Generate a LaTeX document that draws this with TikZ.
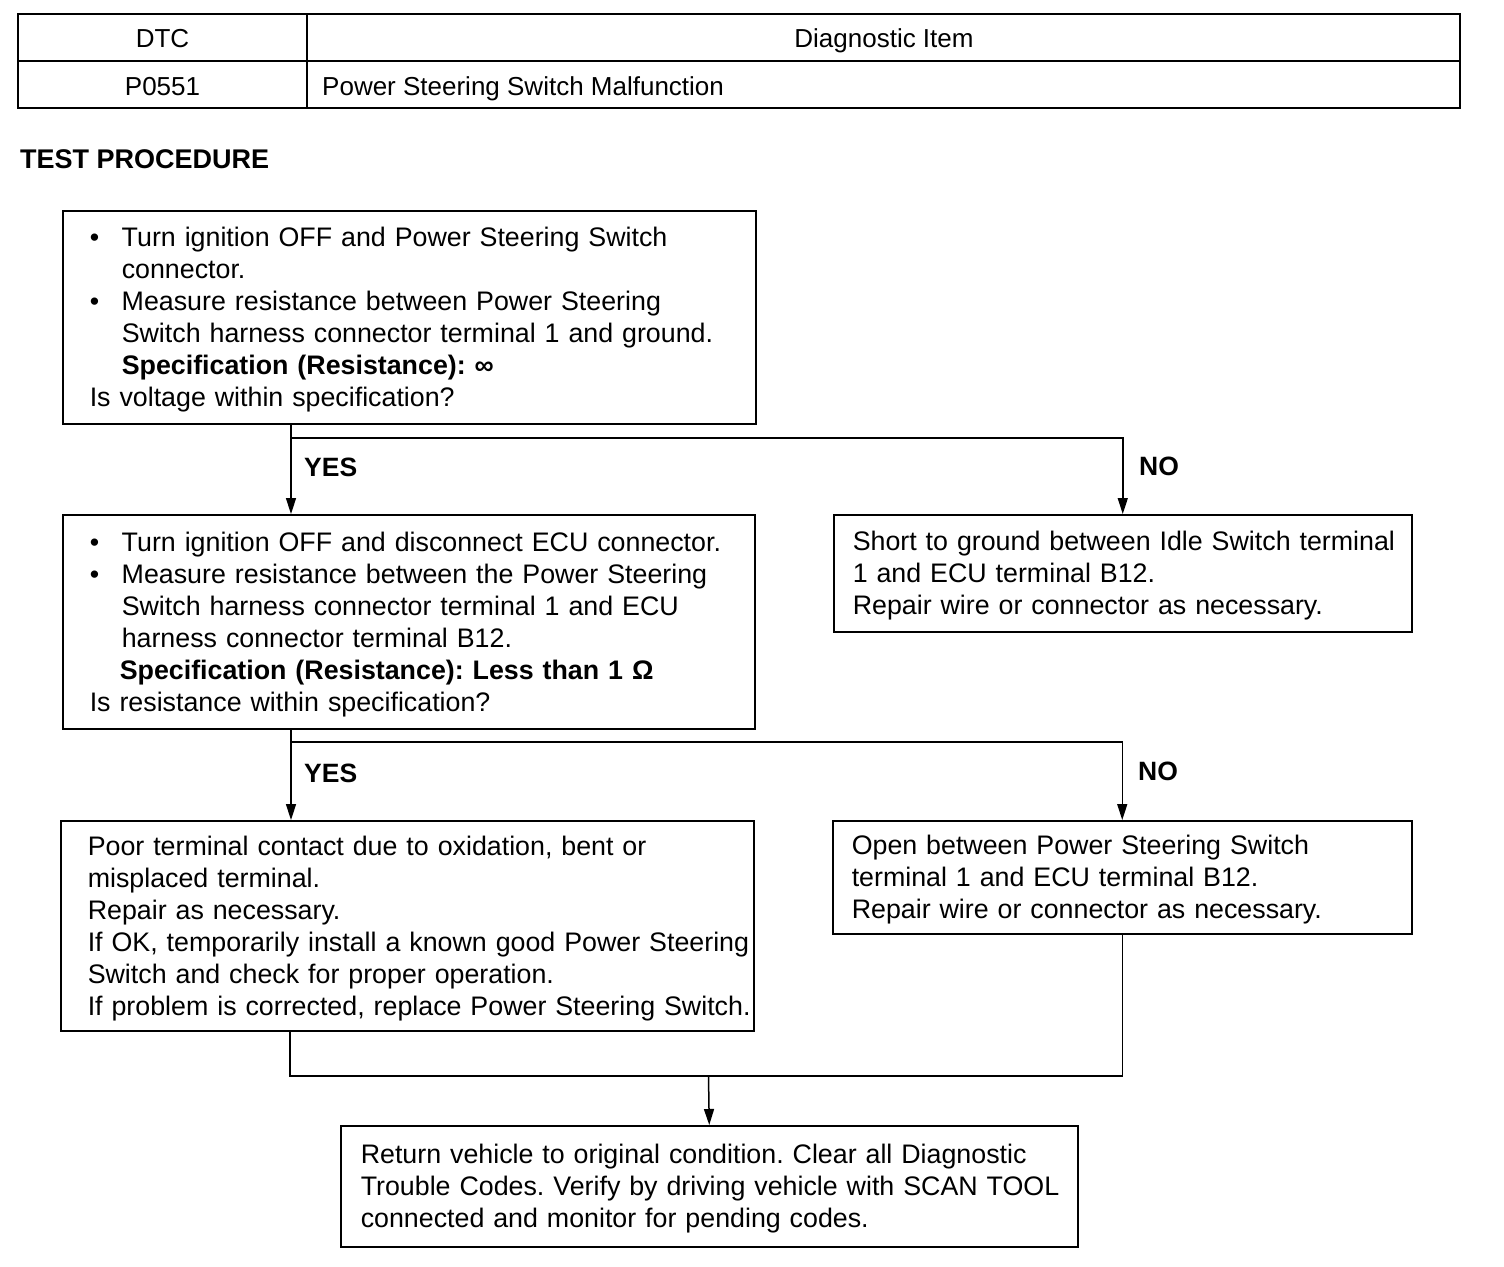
\documentclass[tikz,border=0pt]{standalone}
\usepackage{fontspec}
\setmainfont{Liberation Sans}
\usetikzlibrary{arrows.meta}
\frenchspacing
\tikzset{
  base/.style={font=\fontsize{26.8}{32}\selectfont},
  box/.style={base, draw, line width=1.5pt, rectangle, anchor=north west, align=left, inner ysep=0pt},
  lbl/.style={font=\fontsize{26.5}{32}\selectfont\bfseries, anchor=west, inner sep=0pt},
  cell/.style={font=\fontsize{26}{32}\selectfont, inner sep=0pt, anchor=base},
  conn/.style={line width=1.5pt},
  arr/.style={conn, -{Triangle[length=16pt,width=10pt]}},
}
\newcommand{\bul}{\makebox[32pt][l]{•}}
\newcommand{\ind}{\hspace*{32pt}}
\newenvironment{lines}{\begin{tabular}{@{}l@{}}\rule{0pt}{28.4pt}\ignorespaces}{\end{tabular}}
\begin{document}
\begin{tikzpicture}[x=1pt,y=-1pt]
\useasboundingbox (0,0) rectangle (1504,1266);
% table
\draw[line width=1.5pt] (18,14) rectangle (1460,108);
\draw[line width=1.5pt] (18,61) -- (1460,61);
\draw[line width=1.5pt] (307,14) -- (307,108);
\node[cell] (tdtc) at (162.5,47) {DTC};
\node[cell] (titem) at (884,47) {Diagnostic Item};
\node[cell] (tcode) at (162.5,95) {P0551};
\node[cell, anchor=base west] (tdesc) at (322,95) {Power Steering Switch Malfunction};
\node[font=\fontsize{27}{32}\selectfont\bfseries, anchor=west, inner sep=0pt] (title) at (20,159) {TEST PROCEDURE};

% boxes
\node[box, minimum width=693pt, minimum height=213pt, text width=639pt, inner xsep=27pt] (b1) at (62,210) {\begin{lines}
\bul Turn ignition OFF and Power Steering Switch\\
\ind connector.\\
\bul Measure resistance between Power Steering\\
\ind Switch harness connector terminal 1 and ground.\\
\ind\textbf{Specification (Resistance): ∞}\\
Is voltage within specification?\end{lines}};

\node[box, minimum width=692pt, minimum height=214pt, text width=638pt, inner xsep=27pt] (b2) at (62,514) {\begin{lines}
\bul Turn ignition OFF and disconnect ECU connector.\\
\bul Measure resistance between the Power Steering\\
\ind Switch harness connector terminal 1 and ECU\\
\ind harness connector terminal B12.\\
\hspace*{30pt}\textbf{Specification (Resistance): Less than 1 Ω}\\
Is resistance within specification?\end{lines}};

\node[box, minimum width=578pt, minimum height=117pt, text width=540pt, inner xsep=19pt] (b3) at (833,514) {\begin{lines}
Short to ground between Idle Switch terminal\\
1 and ECU terminal B12.\\
Repair wire or connector as necessary.\end{lines}};

\node[box, minimum width=693pt, minimum height=210pt, text width=639pt, inner xsep=27pt] (b4) at (60,820) {\begin{lines}
Poor terminal contact due to oxidation, bent or\\
misplaced terminal.\\
Repair as necessary.\\
If OK, temporarily install a known good Power Steering\\
Switch and check for proper operation.\\
If problem is corrected, replace Power Steering Switch.\end{lines}};

\node[box, minimum width=579pt, minimum height=113pt, text width=541pt, inner xsep=19pt] (b5) at (832,820) {\begin{lines}
Open between Power Steering Switch\\
terminal 1 and ECU terminal B12.\\
Repair wire or connector as necessary.\end{lines}};

\node[box, minimum width=737pt, minimum height=121pt, text width=697pt, inner xsep=20pt] (b6) at (340,1125) {\begin{lines}
Return vehicle to original condition. Clear all Diagnostic\\
Trouble Codes. Verify by driving vehicle with SCAN TOOL\\
connected and monitor for pending codes.\end{lines}};

% connectors
\coordinate (j1) at (291,438);
\coordinate (j2) at (291,742);
\coordinate (m1) at (290,1076);
\coordinate (m2) at (708.5,1076);
\draw[conn] (b1.south -| j1) -- (j1);
\draw[arr] (j1) -- (b2.north -| j1);
\draw[arr] (j1) -| (b3.north);
\draw[conn] (b2.south -| j2) -- (j2);
\draw[arr] (j2) -- (b4.north -| j2);
\draw[arr] (j2) -| (b5.north);
\draw[conn] (b4.south -| m1) -- (m1) -| (b5.south);
\draw[arr] (m2) -- (b6.north);

\node[lbl] (yes1) at (304,467) {YES};
\node[lbl] (no1) at (1139,466) {NO};
\node[lbl] (yes2) at (304,773) {YES};
\node[lbl] (no2) at (1138,771) {NO};
\end{tikzpicture}
\end{document}
